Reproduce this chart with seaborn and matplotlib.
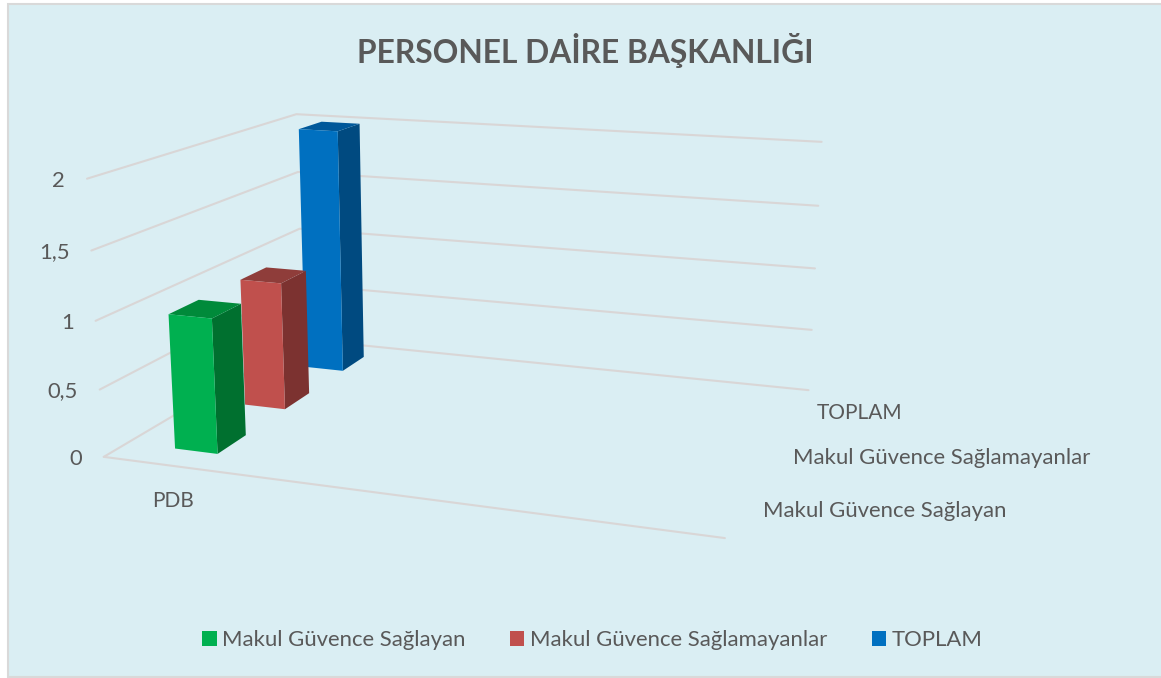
import numpy as np
import pandas as pd
import matplotlib.pyplot as plt
import seaborn as sns
from matplotlib.patches import Polygon, Rectangle

# veri
categories = ['PDB']
series = ['Makul Güvence Sağlayan', 'Makul Güvence Sağlamayanlar', 'TOPLAM']
values = [1, 1, 2]
z_ticks = [0, 0.5, 1, 1.5, 2]
z_labels = ['0', '0,5', '1', '1,5', '2']

df = pd.DataFrame({'kategori': categories * 3, 'seri': series, 'deger': values})

front = ['#00B050', '#C0504D', '#0070C0']
side = ['#00702F', '#7C3230', '#004A80']
top = ['#008A3A', '#8F3D3A', '#00589A']
bg = '#DAEEF3'
grid = '#D9D6D6'
text_col = '#595959'

sns.set_theme(style='white')
plt.rcParams['font.family'] = ['Lato', 'DejaVu Sans']

# (x, derinlik, deger) -> piksel, resimden okunan kosegenlerle kurulan kamera
anchors = [
    (0, 0, 0, 103.3, 457), (0, 0, 1, 95.7, 321), (0, 0, 2, 87.3, 178.7),
    (0, 3, 0, 303, 339), (0, 3, 2, 296, 114.3),
    (1, 0, 0, 725, 537.7),
    (1, 3, 0, 808.3, 390.7), (1, 3, 1, 815, 268.3), (1, 3, 2, 821.7, 141.7),
]
rows = []
for x, d, z, u, v in anchors:
    rows.append([x, d, z, 1, 0, 0, 0, 0, -u * x, -u * d, -u * z, -u])
    rows.append([0, 0, 0, 0, x, d, z, 1, -v * x, -v * d, -v * z, -v])
cam = np.linalg.svd(np.array(rows, dtype=float))[2][-1].reshape(3, 4)


def project(x, d, z):
    p = cam @ np.array([x, d, z, 1.0])
    return p[0] / p[2], p[1] / p[2]


fig = plt.figure(figsize=(11.61, 6.78), dpi=100, facecolor='white')
ax = fig.add_axes([0, 0, 1, 1])
ax.set_xlim(0, 1161)
ax.set_ylim(678, 0)
ax.axis('off')

# arka plan ve cerceve
ax.add_patch(Rectangle((8, 4), 1160, 673, fc=bg, ec='#D9D9D9', lw=1.5, zorder=0))

# duvar cizgileri
for z, lab in zip(z_ticks, z_labels):
    pts = [project(0, 0, z), project(0, 3, z), project(1, 3, z)]
    ax.plot(*zip(*pts), color=grid, lw=1.5, zorder=1)
    ax.text(pts[0][0] - 22, pts[0][1] + 2, lab, ha='right', va='center', fontsize=15.8, color=text_col)
ax.plot(*zip(project(0, 0, 0), project(1, 0, 0)), color=grid, lw=1.5, zorder=1)

# sutunlar
x0, x1 = 0.087, 0.164
for i in [2, 1, 0]:
    val = df['deger'][i]
    d0 = i + 0.3
    d1 = i + 0.7
    ax.add_patch(Polygon([project(x1, d0, 0), project(x1, d1, 0), project(x1, d1, val), project(x1, d0, val)], fc=side[i], lw=0, zorder=3))
    ax.add_patch(Polygon([project(x0, d0, val), project(x1, d0, val), project(x1, d1, val), project(x0, d1, val)], fc=top[i], lw=0, zorder=3))
    ax.add_patch(Polygon([project(x0, d0, 0), project(x1, d0, 0), project(x1, d0, val), project(x0, d0, val)], fc=front[i], lw=0, zorder=3, label=series[i]))

ax.text(585.5, 50.5, 'PERSONEL DAİRE BAŞKANLIĞI', ha='center', va='center', fontsize=22.9, fontweight='bold', color=text_col)
ax.text(173, 501, categories[0], ha='center', va='center', fontsize=15, color=text_col)
ax.text(817, 413, series[2], ha='left', va='center', fontsize=15, color=text_col)
ax.text(793, 458, series[1], ha='left', va='center', fontsize=15.9, color=text_col)
ax.text(763, 511, series[0], ha='left', va='center', fontsize=15.9, color=text_col)

handles, labels = ax.get_legend_handles_labels()
order = [2, 1, 0]
ax.legend([handles[i] for i in order], [labels[i] for i in order], ncol=3, loc='center', bbox_to_anchor=(592.5 / 1161, 1 - 640.5 / 678),
          frameon=False, fontsize=15.9, handlelength=0.64, handleheight=0.64, handletextpad=0.27, columnspacing=2.0, labelcolor=text_col)

fig.savefig('out.png', dpi=100, facecolor='white')
